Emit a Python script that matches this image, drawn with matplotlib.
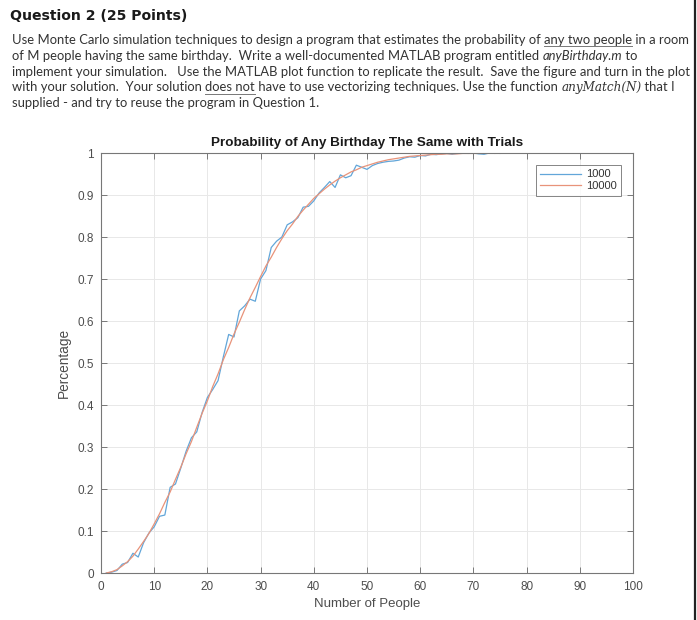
import matplotlib
matplotlib.use("Agg")
import matplotlib.pyplot as plt
import numpy as np
from matplotlib.lines import Line2D

W, H = 697, 620

# --- data (probability vs. number of people) ---
people = list(range(1, 101))
p_1000 = [
    0.000, 0.002, 0.006, 0.021, 0.025, 0.047, 0.038, 0.072, 0.095, 0.110,
    0.135, 0.138, 0.204, 0.212, 0.250, 0.290, 0.322, 0.336, 0.382, 0.418,
    0.437, 0.458, 0.515, 0.568, 0.562, 0.624, 0.636, 0.652, 0.647, 0.700,
    0.720, 0.775, 0.790, 0.800, 0.829, 0.836, 0.846, 0.871, 0.873, 0.886,
    0.905, 0.918, 0.932, 0.918, 0.948, 0.941, 0.946, 0.971, 0.966, 0.961,
    0.970, 0.975, 0.978, 0.980, 0.981, 0.983, 0.988, 0.991, 0.990, 0.994,
    0.993, 0.997, 0.996, 0.998, 0.999, 0.997, 0.999, 1.000, 0.999, 1.000,
    0.998, 0.997, 1.000, 1.000, 0.999, 1.000, 1.000, 1.000, 1.000, 1.000,
    1.000, 1.000, 1.000, 1.000, 1.000, 1.000, 1.000, 1.000, 1.000, 1.000,
    1.000, 1.000, 1.000, 1.000, 1.000, 1.000, 1.000, 1.000, 1.000, 1.000,
]
p_10000 = [
    0.000, 0.003, 0.008, 0.017, 0.027, 0.040, 0.057, 0.075, 0.094, 0.117,
    0.141, 0.168, 0.193, 0.223, 0.252, 0.284, 0.313, 0.347, 0.380, 0.410,
    0.444, 0.474, 0.508, 0.537, 0.569, 0.597, 0.627, 0.655, 0.680, 0.706,
    0.731, 0.752, 0.775, 0.796, 0.815, 0.831, 0.849, 0.864, 0.878, 0.892,
    0.903, 0.914, 0.924, 0.933, 0.941, 0.948, 0.955, 0.960, 0.966, 0.970,
    0.974, 0.978, 0.981, 0.984, 0.986, 0.988, 0.990, 0.992, 0.993, 0.994,
    0.995, 0.996, 0.997, 0.997, 0.998, 0.998, 0.998, 0.999, 0.999, 0.999,
    0.999, 1.000, 1.000, 0.999, 1.000, 1.000, 1.000, 1.000, 1.000, 1.000,
    1.000, 1.000, 1.000, 1.000, 1.000, 1.000, 1.000, 1.000, 1.000, 1.000,
    1.000, 1.000, 1.000, 1.000, 1.000, 1.000, 1.000, 1.000, 1.000, 1.000,
]
series_labels = ["1000", "10000"]
x_ticks = list(range(0, 101, 10))
y_ticks = [0, 0.1, 0.2, 0.3, 0.4, 0.5, 0.6, 0.7, 0.8, 0.9, 1]
y_tick_labels = ["0", "0.1", "0.2", "0.3", "0.4", "0.5", "0.6", "0.7", "0.8", "0.9", "1"]

heading = "Question 2 (25 Points)"
body_lines = [
    [("Use Monte Carlo simulation techniques to design a program that estimates the probability of ", ""),
     ("any two people", "u"), (" in a room", "")],
    [("of M people having the same birthday.  Write a well-documented MATLAB program entitled ", ""),
     ("anyBirthday.m", "i"), (" to", "")],
    [("implement your simulation.   Use the MATLAB plot function to replicate the result.  Save the figure and turn in the plot", "")],
    [("with your solution.  Your solution ", ""), ("does not", "u"),
     (" have to use vectorizing techniques. Use the function ", ""), ("anyMatch(N)", "m"), (" that I", "")],
    [("supplied - and try to reuse the program in Question 1.", "")],
]

BODY_FONT = "Lato"
TEXT_COLOR = "#333333"
PLOT_FONT = "Liberation Sans"

fig = plt.figure(figsize=(W / 100, H / 100), dpi=100)
renderer = fig.canvas.get_renderer()


def seg_kwargs(style, size):
    kw = dict(fontsize=size, family=BODY_FONT, color=TEXT_COLOR)
    if style == "i":
        kw["style"] = "italic"
    elif style == "m":
        kw["family"] = "DejaVu Serif"
        kw["style"] = "italic"
        kw["fontsize"] = size * 0.92
    return kw


def text_width(txt, kw):
    # pad with "x" so leading/trailing spaces are counted
    t1 = fig.text(0, 0, "x" + txt + "x", **kw)
    t2 = fig.text(0, 0, "xx", **kw)
    w = t1.get_window_extent(renderer).width - t2.get_window_extent(renderer).width
    t1.remove()
    t2.remove()
    return w


def put_line(x, y, segments, size):
    for txt, style in segments:
        kw = seg_kwargs(style, size)
        fig.text(x / W, 1 - y / H, txt, va="baseline", ha="left", **kw)
        w = text_width(txt, kw)
        if style == "u":
            fig.add_artist(Line2D([x / W, (x + w) / W], [1 - (y + 2.2) / H] * 2,
                                  transform=fig.transFigure, color="#777777", lw=0.7))
        x += w


# fit body font size so the longest line spans the same width as in the reference
probe = 10
w_probe = text_width(body_lines[2][0][0], seg_kwargs("", probe))
body_size = probe * 678 / w_probe

# heading
head_kw = dict(fontsize=12, family="DejaVu Sans", weight="bold", color="#1a1a1a")
head_size = 12 * 176 / text_width(heading, head_kw)
fig.text(10 / W, 1 - 20 / H, heading, va="baseline", ha="left",
         fontsize=head_size, family="DejaVu Sans", weight="bold", color="#1a1a1a")

for i, segs in enumerate(body_lines):
    put_line(12, 44 + i * 15.8, segs, body_size)

# right-hand border of the screenshot
fig.add_artist(Line2D([695 / W] * 2, [0, 1], transform=fig.transFigure, color="#222222", lw=1.6))

# --- the plot ---
ax = fig.add_axes([101 / W, 1 - 573 / H, 532 / W, 420 / H])
ax.plot(people, p_1000, color="#62a6d9", lw=0.9, label=series_labels[0])
ax.plot(people, p_10000, color="#e8937a", lw=0.9, label=series_labels[1])
ax.set_xlim(0, 100)
ax.set_ylim(0, 1)
ax.set_xticks(x_ticks)
ax.set_yticks(y_ticks)
ax.set_yticklabels(y_tick_labels)
ax.grid(True, color="#e8e8e8", lw=0.7)
ax.set_axisbelow(True)
ax.tick_params(direction="in", top=True, right=True, length=4, width=0.6,
               color="#666666", labelcolor="#4d4d4d", labelsize=8.5)
ax.tick_params(axis="x", pad=6)
ax.tick_params(axis="y", pad=5)
for sp in ax.spines.values():
    sp.set_color("#777777")
    sp.set_linewidth(0.8)
for lab in ax.get_xticklabels() + ax.get_yticklabels():
    lab.set_family(PLOT_FONT)

ax.set_title("Probability of Any Birthday The Same with Trials", family=PLOT_FONT,
             weight="bold", fontsize=9.7, color="#1a1a1a", pad=5)
ax.set_xlabel("Number of People", family=PLOT_FONT, fontsize=9.5, color="#4d4d4d", labelpad=3)
ax.set_ylabel("Percentage", family=PLOT_FONT, fontsize=9.8, color="#4d4d4d", labelpad=5)

leg = ax.legend(loc="upper right", bbox_to_anchor=((621 - 101) / 532, (573 - 165) / 420),
                bbox_transform=ax.transAxes, borderaxespad=0, fancybox=False,
                edgecolor="#666666", handlelength=3.7, handletextpad=0.4,
                labelspacing=0.15, borderpad=0.4, prop={"family": PLOT_FONT, "size": 8})
leg.get_frame().set_linewidth(0.7)
for t in leg.get_texts():
    t.set_color("#333333")

fig.savefig("out.png", dpi=100)
